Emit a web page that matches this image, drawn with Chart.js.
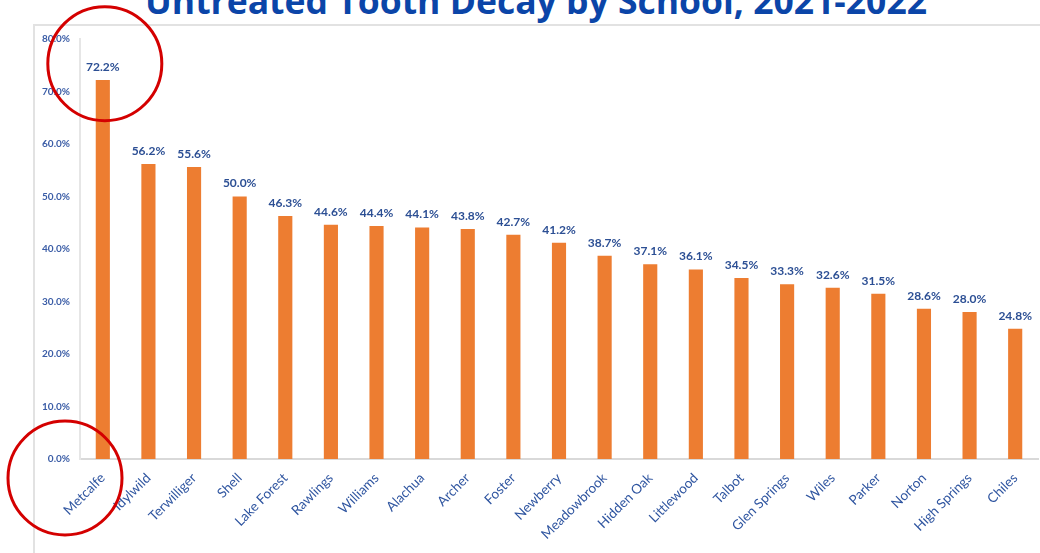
<!DOCTYPE html>
<html>
<head>
<meta charset="utf-8">
<script src="https://cdn.jsdelivr.net/npm/chart.js@4"></script>
<style>
  html, body { margin: 0; padding: 0; background: #fff; overflow: hidden; }
  #wrap { position: relative; width: 1040px; height: 553px; }
  #title {
    position: absolute; left: 0; width: 1072px; top: -24px; text-align: center;
    font: bold 35.5px "Open Sans", sans-serif; color: #0b45a8; white-space: nowrap;
  }
  #frame {
    position: absolute; left: 33px; top: 24px; width: 1020px; height: 560px;
    border-left: 2px solid #e2e2e2; border-top: 2px solid #e2e2e2;
  }
  canvas { position: absolute; left: 0; top: 0; }
</style>
</head>
<body>
<div id="wrap">
  <div id="title">Untreated Tooth Decay by School, 2021-2022</div>
  <div id="frame"></div>
  <canvas id="chart" width="1040" height="553"></canvas>
</div>
<script>
// escolas e percentuais
const schools = ['Metcalfe', 'Idylwild', 'Terwilliger', 'Shell', 'Lake Forest', 'Rawlings', 'Williams',
  'Alachua', 'Archer', 'Foster', 'Newberry', 'Meadowbrook', 'Hidden Oak', 'Littlewood', 'Talbot',
  'Glen Springs', 'Wiles', 'Parker', 'Norton', 'High Springs', 'Chiles'];
const decay = [72.2, 56.2, 55.6, 50.0, 46.3, 44.6, 44.4, 44.1, 43.8, 42.7, 41.2, 38.7, 37.1, 36.1, 34.5,
  33.3, 32.6, 31.5, 28.6, 28.0, 24.8];
const yTicks = [0, 10, 20, 30, 40, 50, 60, 70, 80];

const BLUE = '#2f55a0';

// rótulos de valor em cima das barras
const valueLabels = {
  id: 'valueLabels',
  afterDatasetsDraw(chart) {
    const { ctx } = chart;
    const meta = chart.getDatasetMeta(0);
    ctx.save();
    ctx.fillStyle = '#2c4f94';
    ctx.font = 'bold 12px Lato, sans-serif';
    ctx.textAlign = 'center';
    ctx.textBaseline = 'bottom';
    meta.data.forEach((bar, i) => {
      ctx.fillText(decay[i].toFixed(1) + '%', bar.x, bar.y - 7);
    });
    ctx.restore();
  }
};

// círculos vermelhos de destaque
const circles = {
  id: 'circles',
  afterDraw(chart) {
    const { ctx } = chart;
    const x = chart.scales.x, y = chart.scales.y;
    ctx.save();
    ctx.strokeStyle = '#d40000';
    ctx.lineWidth = 3;
    ctx.beginPath();
    ctx.arc(x.getPixelForValue(0) + 2, y.getPixelForValue(75.3), 57, 0, Math.PI * 2);
    ctx.stroke();
    ctx.beginPath();
    ctx.arc(65, y.getPixelForValue(0) + 19, 57, 0, Math.PI * 2);
    ctx.stroke();
    ctx.restore();
  }
};

new Chart(document.getElementById('chart'), {
  type: 'bar',
  data: {
    labels: schools,
    datasets: [{
      data: decay,
      backgroundColor: '#ed7d31',
      barPercentage: 0.62,
      categoryPercentage: 0.5
    }]
  },
  options: {
    responsive: false,
    animation: false,
    layout: { padding: { top: 39, right: 2, left: 0, bottom: 0 } },
    plugins: { legend: { display: false }, tooltip: { enabled: false } },
    scales: {
      x: {
        grid: { display: false, drawTicks: false },
        border: { color: '#d9d9d9', width: 2 },
        ticks: {
          color: BLUE, font: { family: 'Lato, sans-serif', size: 13.5 },
          minRotation: 45, maxRotation: 45, padding: 11, autoSkip: false
        },
        afterFit(scale) { scale.height = 94; }
      },
      y: {
        min: 0, max: 80,
        afterBuildTicks(scale) { scale.ticks = yTicks.map(v => ({ value: v })); },
        grid: { display: false, drawTicks: false },
        border: { color: '#e6e6e6', width: 2 },
        ticks: {
          color: '#3a5ca6', font: { family: 'Lato, sans-serif', size: 10, weight: 'bold' },
          padding: 10,
          callback: v => v.toFixed(1) + '%'
        },
        afterFit(scale) { scale.width = 80; }
      }
    }
  },
  plugins: [valueLabels, circles]
});
</script>
</body>
</html>
